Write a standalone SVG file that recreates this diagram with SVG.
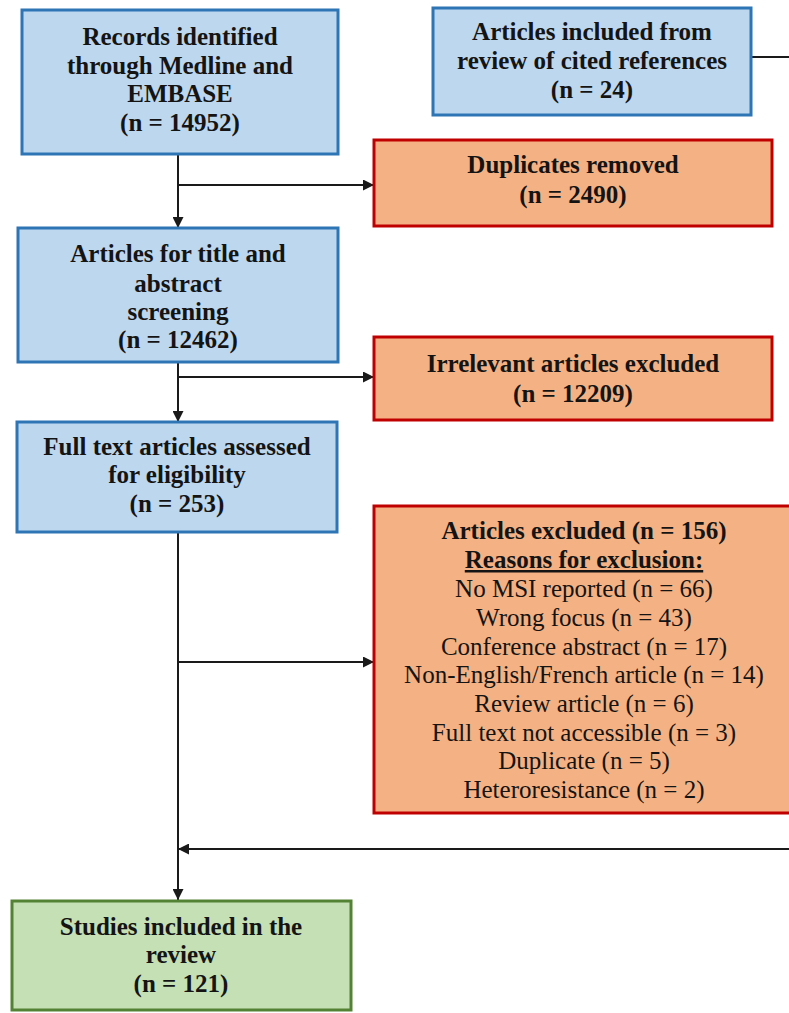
<svg xmlns="http://www.w3.org/2000/svg" width="789" height="1013" viewBox="0 0 789 1013">
  <style>
    .blue { fill: #bdd7ee; stroke: #2e75b6; stroke-width: 3; }
    .red { fill: #f4b183; stroke: #c00000; stroke-width: 3; }
    .green { fill: #c5e0b4; stroke: #548235; stroke-width: 3; }
    text { font-family: "Liberation Serif", serif; font-size: 25px; fill: #141414; text-anchor: middle; }
    .b { font-weight: bold; }
    .conn { fill: none; stroke: #1a1a1a; stroke-width: 2; }
  </style>
  <defs>
    <marker id="arr" viewBox="0 0 10 10" refX="10" refY="5" markerWidth="11" markerHeight="11" markerUnits="userSpaceOnUse" orient="auto">
      <path d="M0,0 L10,5 L0,10 z" fill="#1a1a1a"/>
    </marker>
  </defs>

  <rect width="789" height="1013" fill="#ffffff"/>

  <g id="connectors">
    <path class="conn" d="M178,154 V228" marker-end="url(#arr)"/>
    <path class="conn" d="M178,185 H374" marker-end="url(#arr)"/>
    <path class="conn" d="M178,362 V422" marker-end="url(#arr)"/>
    <path class="conn" d="M178,377 H374" marker-end="url(#arr)"/>
    <path class="conn" d="M178,532 V900" marker-end="url(#arr)"/>
    <path class="conn" d="M178,662 H374" marker-end="url(#arr)"/>
    <path class="conn" d="M751,57 H795 V849 H178" marker-end="url(#arr)"/>
  </g>

  <g id="records">
    <rect class="blue" x="22" y="10" width="316" height="144"/>
    <text class="b" x="180" y="45">Records identified</text>
    <text class="b" x="180" y="74">through Medline and</text>
    <text class="b" x="180" y="102">EMBASE</text>
    <text class="b" x="180" y="131">(n = 14952)</text>
  </g>

  <g id="cited">
    <rect class="blue" x="433" y="8" width="318" height="107"/>
    <text class="b" x="592" y="40">Articles included from</text>
    <text class="b" x="592" y="69">review of cited references</text>
    <text class="b" x="592" y="98">(n = 24)</text>
  </g>

  <g id="duplicates">
    <rect class="red" x="374" y="140" width="398" height="86"/>
    <text class="b" x="573" y="173">Duplicates removed</text>
    <text class="b" x="573" y="203">(n = 2490)</text>
  </g>

  <g id="screening">
    <rect class="blue" x="18" y="228" width="320" height="134"/>
    <text class="b" x="178" y="262">Articles for title and</text>
    <text class="b" x="178" y="292">abstract</text>
    <text class="b" x="178" y="320">screening</text>
    <text class="b" x="178" y="348">(n = 12462)</text>
  </g>

  <g id="irrelevant">
    <rect class="red" x="374" y="337" width="398" height="83"/>
    <text class="b" x="573" y="372">Irrelevant articles excluded</text>
    <text class="b" x="573" y="402">(n = 12209)</text>
  </g>

  <g id="fulltext">
    <rect class="blue" x="17" y="422" width="320" height="110"/>
    <text class="b" x="177" y="455">Full text articles assessed</text>
    <text class="b" x="177" y="483">for eligibility</text>
    <text class="b" x="177" y="512">(n = 253)</text>
  </g>

  <g id="excluded">
    <rect class="red" x="374" y="506" width="421" height="307"/>
    <text class="b" x="584" y="539">Articles excluded (n = 156)</text>
    <text class="b" x="584" y="568" text-decoration="underline">Reasons for exclusion:</text>
    <text x="584" y="597">No MSI reported (n = 66)</text>
    <text x="584" y="626">Wrong focus (n = 43)</text>
    <text x="584" y="655">Conference abstract (n = 17)</text>
    <text x="584" y="683">Non-English/French article (n = 14)</text>
    <text x="584" y="712">Review article (n = 6)</text>
    <text x="584" y="741">Full text not accessible (n = 3)</text>
    <text x="584" y="769">Duplicate (n = 5)</text>
    <text x="584" y="798">Heteroresistance (n = 2)</text>
  </g>

  <g id="included">
    <rect class="green" x="12" y="901" width="339" height="109"/>
    <text class="b" x="181" y="935">Studies included in the</text>
    <text class="b" x="181" y="963">review</text>
    <text class="b" x="181" y="992">(n = 121)</text>
  </g>
</svg>
